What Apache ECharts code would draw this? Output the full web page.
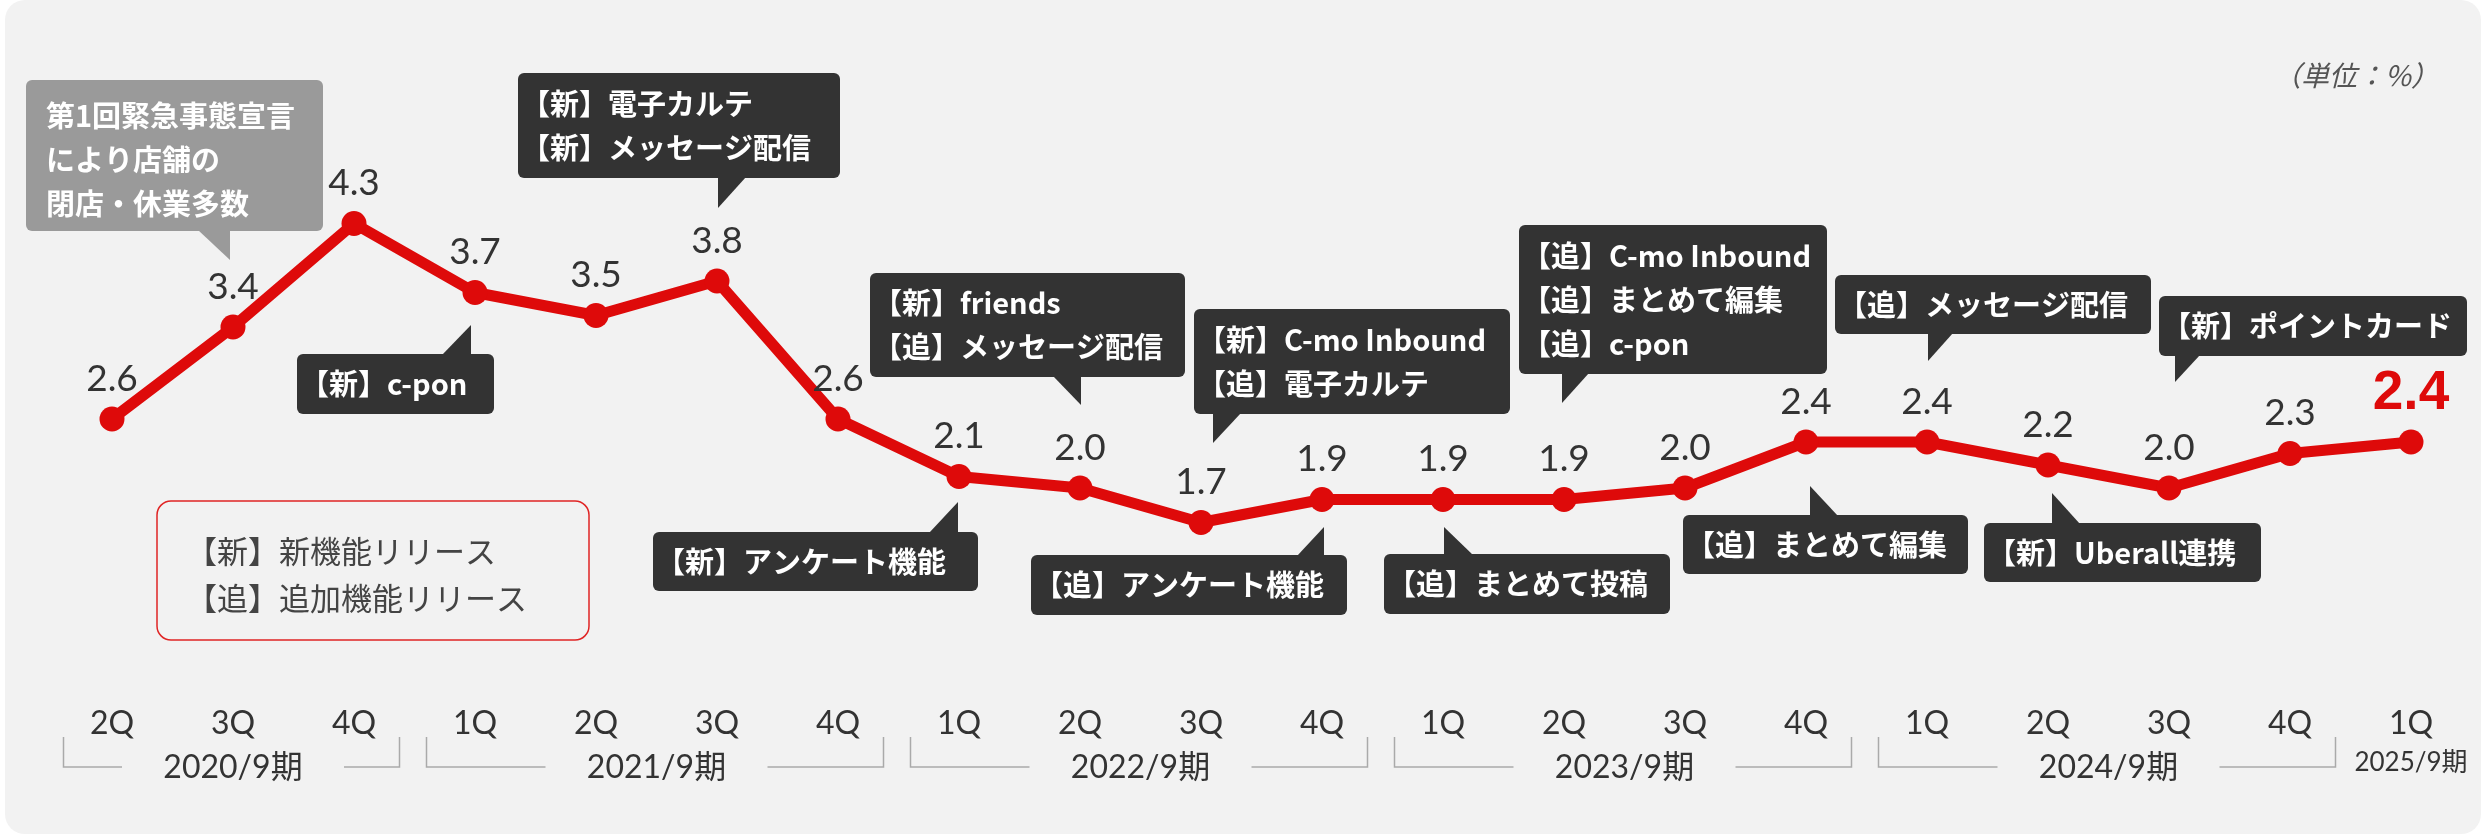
<!DOCTYPE html>
<html lang="ja">
<head>
<meta charset="utf-8">
<title>解約率推移</title>
<script src="https://cdn.jsdelivr.net/npm/echarts@6/dist/echarts.min.js"></script>
<style>
  html, body { margin: 0; padding: 0; background: #ffffff; }
  #chart { width: 2486px; height: 834px; }
</style>
</head>
<body>
<div id="chart"></div>
<script>
// 四半期ラベル
const quarters = ['2Q','3Q','4Q','1Q','2Q','3Q','4Q','1Q','2Q','3Q','4Q','1Q','2Q','3Q','4Q','1Q','2Q','3Q','4Q','1Q'];
// 各四半期の値（%）
const rates = [2.6, 3.4, 4.3, 3.7, 3.5, 3.8, 2.6, 2.1, 2.0, 1.7, 1.9, 1.9, 1.9, 2.0, 2.4, 2.4, 2.2, 2.0, 2.3, 2.4];
// 決算期と、それに含まれる四半期の範囲（先頭・末尾のインデックス）
const fiscalYears = ['2020/9期', '2021/9期', '2022/9期', '2023/9期', '2024/9期', '2025/9期'];
const fiscalSpans = [[0, 2], [3, 6], [7, 10], [11, 14], [15, 18], [19, 19]];
// 吹き出しの文言（対象の四半期インデックス）
const notes = [
  { idx: 1,  lines: ['第1回緊急事態宣言', 'により店舗の', '閉店・休業多数'], gray: true },
  { idx: 5,  lines: ['【新】電子カルテ', '【新】メッセージ配信'] },
  { idx: 3,  lines: ['【新】c-pon'] },
  { idx: 8,  lines: ['【新】friends', '【追】メッセージ配信'] },
  { idx: 7,  lines: ['【新】アンケート機能'] },
  { idx: 9,  lines: ['【新】C-mo Inbound', '【追】電子カルテ'] },
  { idx: 10, lines: ['【追】アンケート機能'] },
  { idx: 11, lines: ['【追】まとめて投稿'] },
  { idx: 12, lines: ['【追】C-mo Inbound', '【追】まとめて編集', '【追】c-pon'] },
  { idx: 14, lines: ['【追】まとめて編集'] },
  { idx: 15, lines: ['【追】メッセージ配信'] },
  { idx: 16, lines: ['【新】Uberall連携'] },
  { idx: 17, lines: ['【新】ポイントカード'] }
];
// 凡例の文言
const legendLines = ['【新】新機能リリース', '【追】追加機能リリース'];
const unitText = '（単位：%）';

// 吹き出しの配置（点からの相対位置: box=[dx,dy,w,h], vx=矢印の縦辺, bw=矢印の底辺幅(負は左向き), tip=先端のdy）
const noteLayout = [
  { box: [-207, -247, 297, 151], vx: -3, bw: -32, tip: -67 },
  { box: [-199, -208, 322, 105], vx: 1,  bw: 28,  tip: -73 },
  { box: [-178, 61.5, 197, 60],  vx: -4, bw: -29, tip: 32.5 },
  { box: [-210, -215, 315, 104], vx: 1,  bw: -28, tip: -83 },
  { box: [-306, 55.5, 325, 59],  vx: -1, bw: -29, tip: 25.5 },
  { box: [-7, -213.5, 316, 105], vx: 12, bw: 28,  tip: -79.5 },
  { box: [-291, 55.5, 316, 60],  vx: 2,  bw: -27, tip: 27.5 },
  { box: [-59, 54.5, 286, 60],   vx: 1,  bw: 29,  tip: 27.5 },
  { box: [-45, -274.5, 308, 149], vx: -2, bw: 27, tip: -96.5 },
  { box: [-123, 73, 285, 59],    vx: 4,  bw: 28,  tip: 44 },
  { box: [-92, -167, 316, 59],   vx: 1,  bw: 25,  tip: -81 },
  { box: [-64, 58, 277, 59],     vx: 4,  bw: 28,  tip: 28 },
  { box: [-10, -192, 308, 60],   vx: 6,  bw: 25,  tip: -106 }
];

const RED = '#de0a0a';
const JP = '"Noto Sans CJK JP", "Noto Sans", sans-serif';
const NUM = 'Lato, "Noto Sans", sans-serif';

const chart = echarts.init(document.getElementById('chart'), null, { renderer: 'canvas' });

const seriesData = rates.map((v, i) => {
  if (i === rates.length - 1) {
    return {
      value: v,
      label: { color: RED, fontSize: 55, fontWeight: 'bold', fontFamily: '"Liberation Sans", Arial, sans-serif', distance: 8 }
    };
  }
  return v;
});

chart.setOption({
  backgroundColor: '#ffffff',
  animation: false,
  grid: { left: 51.5, right: 14.5, top: 143, bottom: 116 },
  xAxis: {
    type: 'category',
    data: quarters,
    boundaryGap: true,
    axisLine: { show: false },
    axisTick: { show: false },
    splitLine: { show: false },
    axisLabel: {
      fontSize: 32, fontFamily: NUM, color: '#333333',
      verticalAlign: 'middle', margin: 6, interval: 0
    }
  },
  yAxis: { type: 'value', min: 0, max: 5, show: false },
  series: [{
    type: 'line',
    data: seriesData,
    z: 5,
    lineStyle: { color: RED, width: 11 },
    itemStyle: { color: RED },
    symbol: 'circle',
    symbolSize: 25,
    label: {
      show: true,
      position: 'top',
      distance: 9,
      fontSize: 37,
      fontFamily: NUM,
      fontWeight: 'normal',
      color: '#333333',
      formatter: p => Number(p.value).toFixed(1)
    }
  }]
});

function pt(i, v) { return chart.convertToPixel({ seriesIndex: 0 }, [i, v]); }

const graphics = [];

// 背景パネル
graphics.push({
  type: 'rect', z: -10, silent: true,
  shape: { x: 5, y: 0, width: 2476, height: 834, r: 20 },
  style: { fill: '#f2f2f2' }
});

// 単位表記
graphics.push({
  type: 'text', z: 10,
  style: {
    text: unitText, x: 2356, y: 75,
    fill: '#555555', font: 'italic 28px ' + JP,
    align: 'center', verticalAlign: 'middle', textAlign: 'center', textVerticalAlign: 'middle'
  }
});

// 凡例ボックス
graphics.push({
  type: 'rect', z: 10,
  shape: { x: 157, y: 501, width: 432, height: 139, r: 14 },
  style: { fill: 'none', stroke: '#e02424', lineWidth: 1.5 }
});
legendLines.forEach((t, k) => {
  graphics.push({
    type: 'text', z: 11,
    style: {
      text: t, x: 186, y: 551 + k * 47,
      fill: '#444444', font: '31px ' + JP,
      align: 'left', verticalAlign: 'middle', textAlign: 'left', textVerticalAlign: 'middle'
    }
  });
});

// 吹き出し
notes.forEach((n, k) => {
  const L = noteLayout[k];
  const [px, py] = pt(n.idx, rates[n.idx]);
  const bx = px + L.box[0], by = py + L.box[1], bw = L.box[2], bh = L.box[3];
  const fill = n.gray ? '#9a9a9a' : '#333333';
  const vx = px + L.vx;
  const tipY = py + L.tip;
  const above = L.tip < 0;
  const baseY = above ? by + bh - 1 : by + 1;
  graphics.push({
    type: 'polygon', z: 20,
    shape: { points: [[vx, baseY], [vx + L.bw, baseY], [vx, tipY]] },
    style: { fill: fill }
  });
  graphics.push({
    type: 'rect', z: 20,
    shape: { x: bx, y: by, width: bw, height: bh, r: 6 },
    style: { fill: fill }
  });
  graphics.push({
    type: 'text', z: 21,
    style: {
      text: n.lines.join('\n'),
      x: bx + (n.gray ? 20 : 3),
      y: by + bh / 2 + (n.gray ? 4 : 0),
      fill: '#ffffff',
      font: 'bold 29px ' + JP,
      lineHeight: 44,
      align: 'left', verticalAlign: 'middle', textAlign: 'left', textVerticalAlign: 'middle'
    }
  });
});

// 決算期ラベルと括弧線
const band = pt(1, 0)[0] - pt(0, 0)[0];
fiscalYears.forEach((name, g) => {
  const [a, b] = fiscalSpans[g];
  const xa = pt(a, 0)[0], xb = pt(b, 0)[0];
  const cx = (xa + xb) / 2;
  const last = g === fiscalYears.length - 1;
  graphics.push({
    type: 'text', z: 10,
    style: {
      text: name, x: cx, y: last ? 763 : 768,
      fill: '#333333', font: (last ? '26px ' : '32px ') + 'Lato, "Noto Sans CJK JP", sans-serif',
      align: 'center', verticalAlign: 'middle', textAlign: 'center', textVerticalAlign: 'middle'
    }
  });
  if (!last) {
    const left = xa - band / 2 + 12;
    const right = xb + band / 2 - 15;
    const lineStyle = { stroke: '#aaaaaa', lineWidth: 1.5, fill: 'none' };
    graphics.push({
      type: 'polyline', z: 10,
      shape: { points: [[left, 737], [left, 767], [cx - 111, 767]] },
      style: lineStyle
    });
    graphics.push({
      type: 'polyline', z: 10,
      shape: { points: [[cx + 111, 767], [right, 767], [right, 737]] },
      style: lineStyle
    });
  }
});

chart.setOption({ graphic: graphics });
</script>
</body>
</html>
